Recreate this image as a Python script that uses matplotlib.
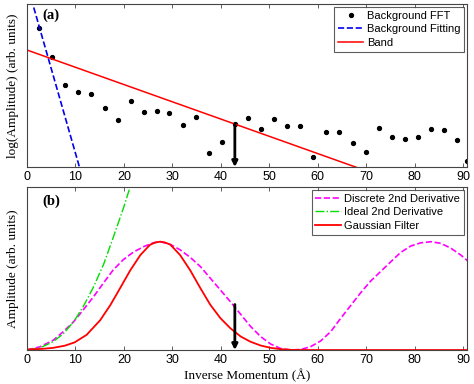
import matplotlib
matplotlib.use('Agg')
import matplotlib.pyplot as plt

# ---- panel (a): background FFT, background fit, band line ----
fft_x = [2.5, 5.2, 7.9, 10.6, 13.3, 16.0, 18.7, 21.4, 24.1, 26.8, 29.4, 32.1,
         34.8, 37.5, 40.2, 42.9, 45.6, 48.3, 51.0, 53.7, 56.4, 59.1, 61.8, 64.5,
         67.2, 69.9, 72.6, 75.3, 78.0, 80.7, 83.4, 86.1, 88.8, 90.9]
fft_y = [13.9, 11.0, 8.2, 7.5, 7.3, 5.9, 4.7, 6.6, 5.5, 5.6, 5.4, 4.2,
         5.0, 1.4, 2.5, 4.3, 4.9, 3.8, 4.8, 4.1, 4.1, 1.0, 3.5, 3.5,
         2.4, 1.5, 3.9, 3.0, 2.8, 3.0, 3.8, 3.7, 2.7, 0.6]
fit_x = [0, 12]
fit_y = [18.3, -2.0]
band_x = [0, 91]
band_y = [11.7, -4.0]

# ---- panel (b): filters ----
deriv_x = [0, 2.7, 5.4, 7.5, 9.6, 11.6, 13.7, 15.8, 17.8, 19.9, 22.0, 24.1, 26.1,
           27.5, 29.6, 31.6, 33.7, 35.8, 37.8, 39.9, 42.0, 44.1, 46.1, 48.2, 50.3,
           52.3, 54.4, 56.5, 58.5, 60.6, 62.7, 64.7, 66.8, 68.9, 70.9, 73.0, 75.1,
           77.1, 79.2, 81.3, 83.4, 85.4, 87.5, 89.6, 91.3]
deriv_y = [0, 0.03, 0.09, 0.17, 0.26, 0.37, 0.49, 0.62, 0.74, 0.835, 0.905, 0.955, 0.99,
           1.0, 0.975, 0.925, 0.855, 0.77, 0.665, 0.555, 0.445, 0.33, 0.22, 0.125, 0.055,
           0.015, 0.0, 0.005, 0.03, 0.083, 0.17, 0.29, 0.41, 0.53, 0.635, 0.725, 0.815,
           0.9, 0.96, 0.99, 1.0, 0.985, 0.94, 0.875, 0.81]
ideal_x = [0, 2.7, 5.4, 7.5, 9.6, 11.6, 13.7, 15.8, 17.8, 19.9, 21.6]
ideal_y = [0, 0.02, 0.077, 0.15, 0.26, 0.40, 0.58, 0.79, 1.04, 1.31, 1.55]
gauss_x = [0, 3.0, 5.4, 7.8, 9.8, 12.3, 15.1, 17.2, 19.2, 21.3, 23.4, 25.4, 26.5, 27.5,
           28.5, 29.6, 31.6, 33.7, 35.8, 37.8, 39.9, 42.0, 44.1, 46.1, 48.2, 50.3,
           52.3, 55.0, 91.0]
gauss_y = [0.005, 0.01, 0.02, 0.04, 0.07, 0.14, 0.275, 0.415, 0.57, 0.735, 0.877, 0.972, 0.993, 1.0,
           0.993, 0.972, 0.877, 0.735, 0.57, 0.42, 0.295, 0.2, 0.125, 0.077, 0.042, 0.02,
           0.008, 0.0, 0.0]

cutoff_x = 42.9
cutoff_a = 4.3
cutoff_b = 0.42

serif = 'Liberation Serif'
sans = 'Liberation Sans'
plt.rcParams['font.family'] = sans

fig = plt.figure(figsize=(4.74, 3.84), dpi=100)
ax1 = fig.add_axes([0.057, 0.565, 0.928, 0.4245])
ax2 = fig.add_axes([0.057, 0.0885, 0.928, 0.4245])


def matlab_style(ax):
    for s in ax.spines.values():
        s.set_color('#444444')
        s.set_linewidth(0.8)
    ax.set_xlim(0, 90.8)
    ax.set_xticks(range(0, 91, 10))
    ax.tick_params(axis='x', direction='in', top=True, length=3, width=0.6,
                   color='#444444', labelsize=9, pad=3)
    ax.set_yticks([])


def add_legend(ax):
    leg = ax.legend(loc='upper right', fontsize=8, frameon=True, fancybox=False,
                    edgecolor='#333333', handlelength=2.3, borderaxespad=0.25,
                    labelspacing=0.32, handletextpad=0.3, borderpad=0.35)
    leg.get_frame().set_linewidth(0.8)


# ====== Panel (a) ======
ax1.plot(fft_x, fft_y, 'o', color='black', ms=2.8, label='Background FFT')
ax1.plot(fit_x, fit_y, '--', color='#0000ee', lw=1.2, label='Background Fitting')
ax1.plot(band_x, band_y, '-', color='#ff0000', lw=1.1, label='Band')
ax1.annotate('', xy=(cutoff_x, 0), xytext=(cutoff_x, cutoff_a),
             arrowprops=dict(arrowstyle='-|>', color='black', lw=2, mutation_scale=8,
                             shrinkA=0, shrinkB=0))
ax1.set_ylim(0, 16.3)
matlab_style(ax1)
ax1.set_ylabel('log(Amplitude) (arb. units)', family=serif, fontsize=9.5, labelpad=6)
ax1.text(0.034, 0.932, '(a)', transform=ax1.transAxes, family=serif, fontsize=10.5,
         fontweight='bold', va='center')
add_legend(ax1)

# ====== Panel (b) ======
ax2.plot(deriv_x, deriv_y, '--', color='#ff00ff', lw=1.2, label='Discrete 2nd Derivative')
ax2.plot(ideal_x, ideal_y, '-.', color='#00dd00', lw=1.0, label='Ideal 2nd Derivative')
ax2.plot(gauss_x, gauss_y, '-', color='#ff0000', lw=1.3, label='Gaussian Filter')
ax2.annotate('', xy=(cutoff_x, 0), xytext=(cutoff_x, cutoff_b),
             arrowprops=dict(arrowstyle='-|>', color='black', lw=2, mutation_scale=8,
                             shrinkA=0, shrinkB=0))
ax2.set_ylim(0, 1.505)
matlab_style(ax2)
ax2.set_ylabel('Amplitude (arb. units)', family=serif, fontsize=9.5, labelpad=6)
ax2.set_xlabel('Inverse Momentum (Å)', family=serif, fontsize=9.5, labelpad=2)
ax2.text(0.034, 0.915, '(b)', transform=ax2.transAxes, family=serif, fontsize=10.5,
         fontweight='bold', va='center')
add_legend(ax2)

fig.savefig('out.png', dpi=100)
